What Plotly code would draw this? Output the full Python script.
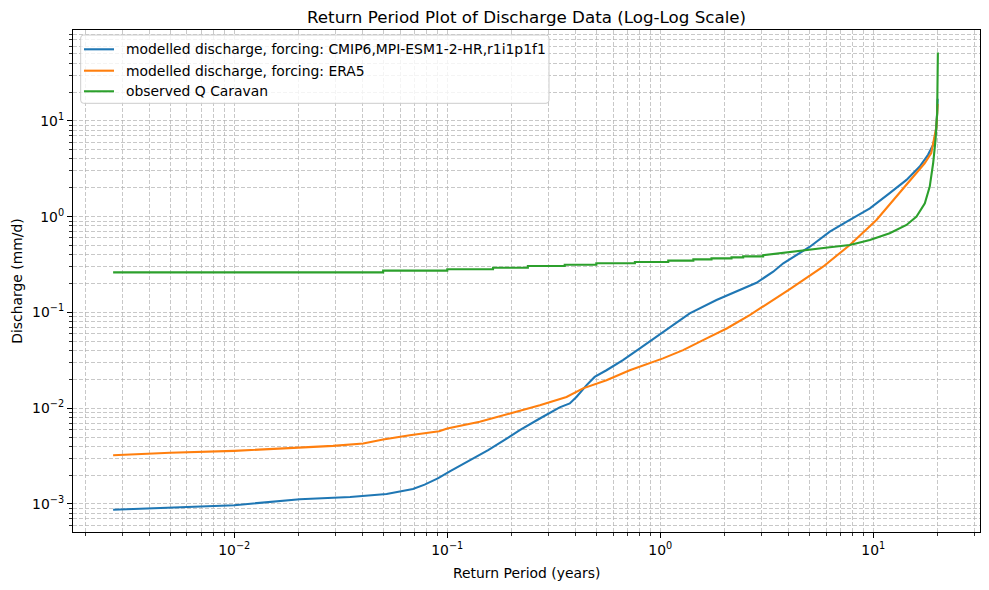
import plotly.graph_objects as go

# ---- data (return period in years, discharge in mm/d) ----
cmip6_T = [0.0027, 0.005, 0.01, 0.0203, 0.035, 0.0519, 0.069, 0.0783, 0.0903, 0.1028,
           0.125, 0.1556, 0.190, 0.219, 0.272, 0.337, 0.376, 0.404, 0.451, 0.492,
           0.559, 0.668, 0.802, 1.07, 1.375, 1.836, 2.36, 2.83, 3.39, 3.78,
           5.04, 6.25, 7.76, 9.64, 11.94, 14.32, 16.52, 18.07, 19.10, 19.63, 19.9, 20.05]
cmip6_Q = [0.00087, 0.00091, 0.00097, 0.00112, 0.00118, 0.00127, 0.00143, 0.00159, 0.00185, 0.00219,
           0.0028, 0.00364, 0.00482, 0.00589, 0.0078, 0.0102, 0.0112, 0.0131, 0.0174, 0.0212,
           0.0249, 0.0318, 0.042, 0.0653, 0.0977, 0.1346, 0.171, 0.204, 0.266, 0.326,
           0.485, 0.697, 0.924, 1.22, 1.76, 2.42, 3.34, 4.42, 5.62, 7.45, 11.0, 17.0]

era5_T = [0.0027, 0.005, 0.01, 0.0203, 0.0291, 0.0403, 0.05, 0.0667, 0.0916, 0.100,
          0.142, 0.197, 0.272, 0.363, 0.434, 0.559, 0.719, 1.03, 1.28, 1.65,
          2.05, 2.63, 3.64, 4.06, 5.81, 7.76, 10.35, 12.83, 15.35, 17.42, 18.71,
          19.41, 19.8, 20.05]
era5_Q = [0.00323, 0.00342, 0.00358, 0.00388, 0.00404, 0.00427, 0.00471, 0.00522, 0.00575, 0.00614,
          0.0072, 0.0088, 0.0107, 0.0131, 0.0161, 0.0196, 0.0249, 0.0331, 0.0404, 0.0535,
          0.068, 0.0938, 0.148, 0.175, 0.300, 0.506, 0.924, 1.62, 2.62, 3.61, 4.60,
          6.86, 8.7, 15.0]

obs_step_T = [0.0027, 0.05, 0.1, 0.164, 0.239, 0.356, 0.501, 0.76, 1.09, 1.43, 1.74, 2.16, 2.45, 3.04]
obs_step_Q = [0.262, 0.273, 0.282, 0.293, 0.305, 0.315, 0.326, 0.336, 0.347, 0.358, 0.367, 0.376, 0.385, 0.395]
obs_tail_T = [3.78, 4.68, 6.25, 7.76, 9.64, 11.94, 14.32, 15.96, 17.46, 18.41, 19.1, 19.6, 19.95, 20.1]
obs_tail_Q = [0.42, 0.449, 0.479, 0.506, 0.570, 0.670, 0.819, 1.0, 1.38, 2.06, 3.61, 6.34, 12.1, 51.8]

labels = ["modelled discharge, forcing: CMIP6,MPI-ESM1-2-HR,r1i1p1f1",
          "modelled discharge, forcing: ERA5",
          "observed Q Caravan"]
colors = ["#1f77b4", "#ff7f0e", "#2ca02c"]

x_tick_vals = [0.01, 0.1, 1, 10]
x_tick_text = ["10<sup>\u22122</sup>", "10<sup>\u22121</sup>", "10<sup>0</sup>", "10<sup>1</sup>"]
y_tick_vals = [0.001, 0.01, 0.1, 1, 10]
y_tick_text = ["10<sup>\u22123</sup>", "10<sup>\u22122</sup>", "10<sup>\u22121</sup>",
               "10<sup>0</sup>", "10<sup>1</sup>"]

# build the stepped observed series from its step arrays
obs_x, obs_y = [obs_step_T[0]], [obs_step_Q[0]]
for i in range(1, len(obs_step_T)):
    obs_x += [obs_step_T[i], obs_step_T[i]]
    obs_y += [obs_step_Q[i - 1], obs_step_Q[i]]
obs_x += obs_tail_T
obs_y += obs_tail_Q

FONT = "DejaVu Sans"
FS = 13.9
GRID = "#b0b0b0"
W, H = 989, 590
ML, MR, MT, MB = 73, 9, 30, 58
PW, PH = W - ML - MR, H - MT - MB


def px(xpix):
    return (xpix - ML) / PW


def py(ypix):
    return (H - MB - ypix) / PH


def minor_vals(lo, hi):
    return [m * 10.0 ** e for e in range(lo, hi) for m in range(2, 10)]


fig = go.Figure()
for x, y, name, c in [(cmip6_T, cmip6_Q, labels[0], colors[0]),
                      (era5_T, era5_Q, labels[1], colors[1]),
                      (obs_x, obs_y, labels[2], colors[2])]:
    fig.add_trace(go.Scatter(x=x, y=y, mode="lines", name=name, showlegend=False,
                             line=dict(color=c, width=2.1)))


def axis(rng, tv, tt, mv):
    return dict(
        type="log", range=rng, showline=True, linecolor="black", linewidth=1.1, mirror=True,
        ticks="outside", ticklen=5, tickwidth=1.1, tickcolor="black",
        showgrid=True, gridcolor=GRID, gridwidth=0.7, griddash="4px,2px",
        tickmode="array", tickvals=tv, ticktext=tt, zeroline=False,
        tickfont=dict(family=FONT, size=FS, color="black"),
        minor=dict(tickmode="array", tickvals=mv, ticks="outside", ticklen=3,
                   tickwidth=0.8, tickcolor="black",
                   showgrid=True, gridcolor=GRID, gridwidth=0.7, griddash="4px,2px"),
    )


# legend drawn as a framed box (matplotlib style)
lx0, lx1, ly0, ly1, rad = 80.7, 549.0, 35.0, 103.3, 3.0
rx, ry = rad / PW, rad / PH
X0, X1, Y0, Y1 = px(lx0), px(lx1), py(ly1), py(ly0)
frame_path = (f"M {X0+rx},{Y1} L {X1-rx},{Y1} Q {X1},{Y1} {X1},{Y1-ry} "
              f"L {X1},{Y0+ry} Q {X1},{Y0} {X1-rx},{Y0} L {X0+rx},{Y0} "
              f"Q {X0},{Y0} {X0},{Y0+ry} L {X0},{Y1-ry} Q {X0},{Y1} {X0+rx},{Y1} Z")
shapes = [dict(type="path", path=frame_path, xref="paper", yref="paper",
               fillcolor="rgba(255,255,255,0.8)", line=dict(color="#cccccc", width=1))]
annotations = []
row_y = [49.3, 70.7, 91.3]
for lab, c, ry_ in zip(labels, colors, row_y):
    shapes.append(dict(type="line", xref="paper", yref="paper",
                       x0=px(84.0), x1=px(114.0), y0=py(ry_), y1=py(ry_),
                       line=dict(color=c, width=2.1)))
    annotations.append(dict(text=lab, xref="paper", yref="paper", x=px(124.3), y=py(ry_),
                            xanchor="left", yanchor="middle", showarrow=False,
                            font=dict(family=FONT, size=FS, color="black")))

annotations += [
    dict(text="Return Period Plot of Discharge Data (Log-Log Scale)", xref="paper", yref="paper",
         x=0.5, y=py(16.8), xanchor="center", yanchor="middle", showarrow=False,
         font=dict(family=FONT, size=16.7, color="black")),
    dict(text="Return Period (years)", xref="paper", yref="paper", x=0.5, y=py(573.3),
         xanchor="center", yanchor="middle", showarrow=False,
         font=dict(family=FONT, size=FS, color="black")),
    dict(text="Discharge (mm/d)", xref="paper", yref="paper", x=px(16.7), y=0.5,
         xanchor="center", yanchor="middle", textangle=-90, showarrow=False,
         font=dict(family=FONT, size=FS, color="black")),
]

fig.update_layout(
    width=W, height=H,
    margin=dict(l=ML, r=MR, t=MT, b=MB),
    paper_bgcolor="white", plot_bgcolor="white",
    font=dict(family=FONT, size=FS, color="black"),
    xaxis=axis([-2.757, 1.501], x_tick_vals, x_tick_text, minor_vals(-3, 2)),
    yaxis=axis([-3.293, 1.949], y_tick_vals, y_tick_text, minor_vals(-4, 2)),
    showlegend=False,
    hovermode=False,
    shapes=shapes,
    annotations=annotations,
)

fig.write_html("out.html", config={"displayModeBar": False, "staticPlot": True},
               post_script="document.body.style.margin='0';")
